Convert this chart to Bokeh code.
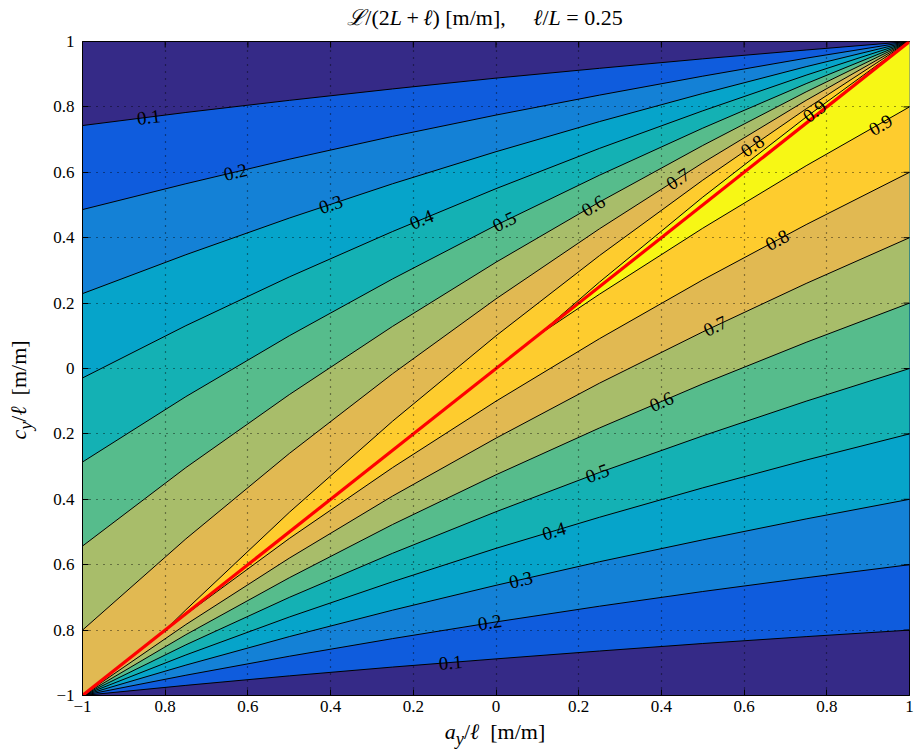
import math
from bokeh.plotting import figure
from bokeh.models import Range1d, FixedTicker, Div
from bokeh.layouts import column, row
from bokeh.embed import file_html
from bokeh.resources import INLINE
from bokeh.core.properties import value

# ---------------- data ----------------
levels = [0.1, 0.2, 0.3, 0.4, 0.5, 0.6, 0.7, 0.8, 0.9]
band_colors = ["#352A87", "#0F5CDD", "#1481D6", "#06A4CA", "#14B1B4",
               "#56BC8C", "#A8BD6A", "#E1B952", "#FECC2E", "#F7F715"]

# contour lines above the red diagonal (they all end in the corner (1, 1))
line_x = [-1.0, -0.75, -0.5, -0.25, 0.0, 0.25, 0.5, 0.75, 1.0]
upper_01 = [0.743, 0.783, 0.820, 0.855, 0.888, 0.918, 0.947, 0.974, 1.0]
upper_02 = [0.486, 0.565, 0.640, 0.710, 0.775, 0.836, 0.894, 0.949, 1.0]
upper_03 = [0.229, 0.348, 0.460, 0.565, 0.663, 0.755, 0.841, 0.923, 1.0]
upper_04 = [-0.029, 0.131, 0.280, 0.419, 0.550, 0.673, 0.788, 0.897, 1.0]
upper_05 = [-0.286, -0.086, 0.100, 0.274, 0.438, 0.591, 0.735, 0.871, 1.0]
upper_06 = [-0.543, -0.303, -0.080, 0.129, 0.325, 0.509, 0.682, 0.846, 1.0]
upper_07 = [-0.800, -0.521, -0.260, -0.016, 0.213, 0.427, 0.629, 0.820, 1.0]
upper_08_x = [-0.8, -0.75, -0.5, -0.25, 0.0, 0.25, 0.5, 0.75, 1.0]
upper_08 = [-0.8, -0.738, -0.440, -0.161, 0.100, 0.345, 0.576, 0.794, 1.0]
upper_09_x = [0.1, 0.25, 0.5, 0.75, 1.0]
upper_09 = [0.1, 0.264, 0.524, 0.769, 1.0]

# contour lines below the red diagonal (they all start in the corner (-1, -1))
lower_01 = [-1.0, -0.969, -0.940, -0.913, -0.888, -0.864, -0.841, -0.820, -0.800]
lower_02 = [-1.0, -0.938, -0.880, -0.826, -0.775, -0.727, -0.682, -0.640, -0.600]
lower_03 = [-1.0, -0.907, -0.820, -0.739, -0.663, -0.591, -0.524, -0.460, -0.400]
lower_04 = [-1.0, -0.876, -0.760, -0.652, -0.550, -0.455, -0.365, -0.280, -0.200]
lower_05 = [-1.0, -0.845, -0.700, -0.565, -0.438, -0.318, -0.206, -0.100, 0.000]
lower_06 = [-1.0, -0.814, -0.640, -0.477, -0.325, -0.182, -0.047, 0.080, 0.200]
lower_07 = [-1.0, -0.783, -0.580, -0.390, -0.213, -0.045, 0.112, 0.260, 0.400]
lower_08_x = [-0.8, -0.75, -0.5, -0.25, 0.0, 0.25, 0.5, 0.75, 1.0]
lower_08 = [-0.8, -0.752, -0.520, -0.303, -0.100, 0.091, 0.271, 0.440, 0.600]
lower_09_x = [0.1, 0.25, 0.5, 0.75, 1.0]
lower_09 = [0.1, 0.227, 0.429, 0.620, 0.800]

# red line a_y = c_y
diag_x = [-1.0, 1.0]
diag_y = [-1.0, 1.0]

# contour label positions
label_x_upper = [-0.84, -0.63, -0.40, -0.18, 0.02, 0.235, 0.44, 0.62, 0.77]
label_y_upper = [0.769, 0.601, 0.502, 0.456, 0.450, 0.498, 0.580, 0.681, 0.787]
label_x_lower = [-0.11, -0.015, 0.06, 0.14, 0.245, 0.40, 0.53, 0.68, 0.93]
label_y_lower = [-0.899, -0.776, -0.646, -0.497, -0.320, -0.101, 0.130, 0.393, 0.745]

ticks = [-1.0, -0.8, -0.6, -0.4, -0.2, 0.0, 0.2, 0.4, 0.6, 0.8, 1.0]
tick_labels = ["\u22121", "0.8", "0.6", "0.4", "0.2", "0", "0.2", "0.4", "0.6", "0.8", "1"]

title_html = ("<i>\u2112</i>/(2<i>L</i>\u2009+\u2009<i>\u2113</i>) [m/m],"
              "&nbsp;&nbsp;&nbsp;&nbsp;&nbsp;<i>\u2113</i>/<i>L</i> = 0.25")
xlabel_html = "<i>a</i><sub><i>y</i></sub>/<i>\u2113</i>&nbsp;&nbsp;[m/m]"
ylabel_html = "<i>c</i><sub><i>y</i></sub>/<i>\u2113</i>&nbsp;&nbsp;[m/m]"

# ---------------- layout constants ----------------
W, H = 915, 756
TITLE_H, XLAB_H, YLAB_W = 30, 35, 40
FIG_W, FIG_H = W - YLAB_W, H - TITLE_H - XLAB_H
BL, BR, BT, BB = 42, 6, 11, 26
FW, FH = FIG_W - BL - BR, FIG_H - BT - BB
SX, SY = FW / 2.0, FH / 2.0
FONT = "Liberation Serif"
TICK_LEN = 6

upper_lines = {
    0.1: (line_x, upper_01), 0.2: (line_x, upper_02), 0.3: (line_x, upper_03),
    0.4: (line_x, upper_04), 0.5: (line_x, upper_05), 0.6: (line_x, upper_06),
    0.7: (line_x, upper_07), 0.8: (upper_08_x, upper_08), 0.9: (upper_09_x, upper_09),
}
lower_lines = {
    0.1: (line_x, lower_01), 0.2: (line_x, lower_02), 0.3: (line_x, lower_03),
    0.4: (line_x, lower_04), 0.5: (line_x, lower_05), 0.6: (line_x, lower_06),
    0.7: (line_x, lower_07), 0.8: (lower_08_x, lower_08), 0.9: (lower_09_x, lower_09),
}

p = figure(width=FIG_W, height=FIG_H, x_range=Range1d(-1, 1), y_range=Range1d(-1, 1),
           output_backend="svg", toolbar_location=None, title=None,
           min_border_left=BL, min_border_right=BR, min_border_top=BT, min_border_bottom=BB)
p.background_fill_color = band_colors[0]
p.border_fill_color = "white"
p.outline_line_color = "black"
p.outline_line_width = 1

# filled regions: region where the value is >= level, painted in order
patch_xs, patch_ys, patch_cols = [], [], []
for i, k in enumerate(levels):
    ux, uy = upper_lines[k]
    lx, ly = lower_lines[k]
    patch_xs.append(list(ux) + list(reversed(lx)))
    patch_ys.append(list(uy) + list(reversed(ly)))
    patch_cols.append(band_colors[i + 1])
p.patches(patch_xs, patch_ys, fill_color=patch_cols, line_color=None)

# contour lines
ml_x = [list(upper_lines[k][0]) for k in levels] + [list(lower_lines[k][0]) for k in levels]
ml_y = [list(upper_lines[k][1]) for k in levels] + [list(lower_lines[k][1]) for k in levels]
p.multi_line(ml_x, ml_y, line_color="black", line_width=1)

# grid (dotted, above the fill)
p.xgrid.ticker = FixedTicker(ticks=ticks)
p.ygrid.ticker = FixedTicker(ticks=ticks)
for g in (p.xgrid, p.ygrid):
    g.grid_line_color = "black"
    g.grid_line_dash = "1 6"
    g.grid_line_width = 1.2
    g.grid_line_alpha = 0.8
    g.level = "overlay"

# red diagonal
p.line(diag_x, diag_y, line_color="#FF0000", line_width=3.2)


def seg_angle(xs, ys, x0):
    for j in range(len(xs) - 1):
        if xs[j] <= x0 <= xs[j + 1]:
            dx = (xs[j + 1] - xs[j]) * SX
            dy = (ys[j + 1] - ys[j]) * SY
            return math.atan2(dy, dx)
    return 0.0


lab_x, lab_y, lab_t, lab_a = [], [], [], []
for i, k in enumerate(levels):
    for (lx0, ly0, lines) in ((label_x_upper[i], label_y_upper[i], upper_lines),
                              (label_x_lower[i], label_y_lower[i], lower_lines)):
        xs, ys = lines[k]
        lab_x.append(lx0)
        lab_y.append(ly0)
        lab_t.append("%.1f" % k)
        lab_a.append(seg_angle(xs, ys, lx0))
p.text(x=lab_x, y=lab_y, text=lab_t, angle=lab_a, text_font=value(FONT),
       text_font_size="19px", text_align="center", text_baseline="middle",
       text_color="black")

# ticks on the top and right edges of the box (inward)
tx = [t for t in ticks[1:-1]]
dy_tick = TICK_LEN / SY
dx_tick = TICK_LEN / SX
p.segment(x0=tx, y0=[1.0] * len(tx), x1=tx, y1=[1.0 - dy_tick] * len(tx),
          line_color="black", line_width=1)
p.segment(x0=[1.0] * len(tx), y0=tx, x1=[1.0 - dx_tick] * len(tx), y1=tx,
          line_color="black", line_width=1)

# axes
for ax in (p.xaxis[0], p.yaxis[0]):
    ax.ticker = FixedTicker(ticks=ticks)
    ax.major_label_overrides = {t: s for t, s in zip(ticks, tick_labels)}
    ax.major_label_text_font = FONT
    ax.major_label_text_font_size = "17px"
    ax.major_label_text_color = "black"
    ax.major_tick_in = TICK_LEN
    ax.major_tick_out = 0
    ax.minor_tick_line_color = None
    ax.axis_line_color = "black"
    ax.major_tick_line_color = "black"
p.yaxis[0].major_label_standoff = 8
p.xaxis[0].major_label_standoff = 5

# title and axis labels as HTML text (italic letters and subscripts)
TXT = "font-family:'Liberation Serif',serif; color:black; white-space:nowrap; position:absolute;"
title_div = Div(text='<div style="%s font-size:22px; left:485px; top:18px; '
                     'transform:translate(-50%%,-50%%);">%s</div>' % (TXT, title_html),
                width=W, height=TITLE_H, margin=0, styles={"position": "relative"})
xlab_div = Div(text='<div style="%s font-size:22px; left:495px; top:13px; '
                    'transform:translate(-50%%,-50%%);">%s</div>' % (TXT, xlabel_html),
               width=W, height=XLAB_H, margin=0, styles={"position": "relative"})
ylab_div = Div(text='<div style="%s font-size:22px; left:21px; top:360px; '
                    'transform:translate(-50%%,-50%%) rotate(-90deg);">%s</div>' % (TXT, ylabel_html),
               width=YLAB_W, height=FIG_H, margin=0, styles={"position": "relative"})

layout = column(title_div, row(ylab_div, p, spacing=0), xlab_div, spacing=0)

open("out.html", "w").write(file_html(layout, INLINE))
